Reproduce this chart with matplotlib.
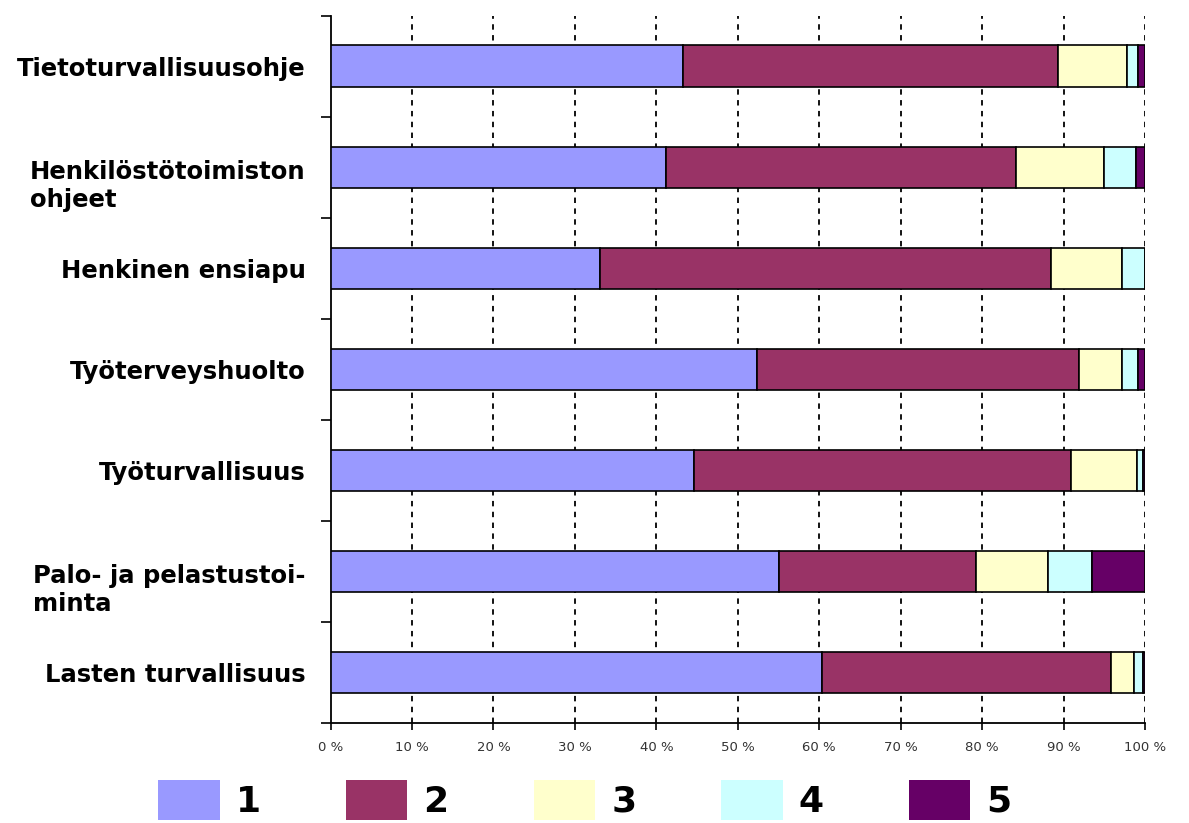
import numpy as np
import matplotlib.pyplot as plt
import matplotlib.transforms as mtransforms

categories = ['Tietoturvallisuusohje', 'Henkilöstötoimiston\nohjeet', 'Henkinen ensiapu',
              'Työterveyshuolto', 'Työturvallisuus', 'Palo- ja pelastustoi-\nminta',
              'Lasten turvallisuus']
series_names = ['1', '2', '3', '4', '5']
s1 = [43.3, 41.2, 33.1, 52.4, 44.6, 55.1, 60.3]
s2 = [46.0, 42.9, 55.3, 39.5, 46.3, 24.2, 35.5]
s3 = [8.5, 10.9, 8.8, 5.3, 8.1, 8.8, 2.8]
s4 = [1.3, 3.9, 2.8, 1.9, 0.8, 5.4, 1.2]
s5 = [0.9, 1.1, 0.0, 0.9, 0.2, 6.5, 0.2]
colors = ['#9999FF', '#993366', '#FFFFCC', '#CCFFFF', '#660066']

fig = plt.figure(figsize=(11.89, 8.23), dpi=100)
ax = fig.add_axes([0.278, 0.1215, 0.685, 0.8595])

y = np.arange(len(categories))
left = np.zeros(len(categories))
for name, vals, c in zip(series_names, [s1, s2, s3, s4, s5], colors):
    vals = np.array(vals)
    ax.barh(y, vals, left=left, height=0.41, color=c, edgecolor='black',
            linewidth=1.2, label=name, zorder=3)
    left += vals

ax.set_xlim(0, 100)
ax.set_ylim(len(categories) - 0.5, -0.5)

# dashed vertical grid
for xv in range(10, 101, 10):
    ax.axvline(xv, color='black', linestyle=(0, (3, 3)), linewidth=1.3, zorder=1)

ax.set_xticks(range(0, 101, 10))
ax.set_xticklabels([f'{v} %' for v in range(0, 101, 10)], fontsize=9.5,
                   color='#333333')
ax.tick_params(axis='x', direction='out', length=5, width=1.2, pad=8)

ax.set_yticks(y)
ax.set_yticklabels(categories, fontsize=17.5, fontweight='bold',
                   family='DejaVu Sans')
ax.set_yticks(np.arange(-0.5, len(categories) + 0.5, 1), minor=True)
ax.tick_params(axis='y', which='major', length=0, pad=18)
ax.tick_params(axis='y', which='minor', direction='out', length=7, width=1.2)
for lab in ax.get_yticklabels():
    if '\n' in lab.get_text():
        lab.set_multialignment('left')
        lab.set_transform(lab.get_transform() +
                          mtransforms.ScaledTranslation(0, -0.14, fig.dpi_scale_trans))

for s in ['top', 'right']:
    ax.spines[s].set_visible(False)
ax.spines['left'].set_linewidth(1.3)
ax.spines['bottom'].set_linewidth(1.3)

fig.legend(loc='lower center', bbox_to_anchor=(0.492, -0.036), ncol=5, frameon=False,
           prop={'size': 26, 'weight': 'bold'}, handlelength=1.7, handleheight=1.35,
           columnspacing=2.35, handletextpad=0.45)
for p in fig.legends[0].get_patches():
    p.set_linewidth(0)

fig.savefig('out.png', dpi=100)
